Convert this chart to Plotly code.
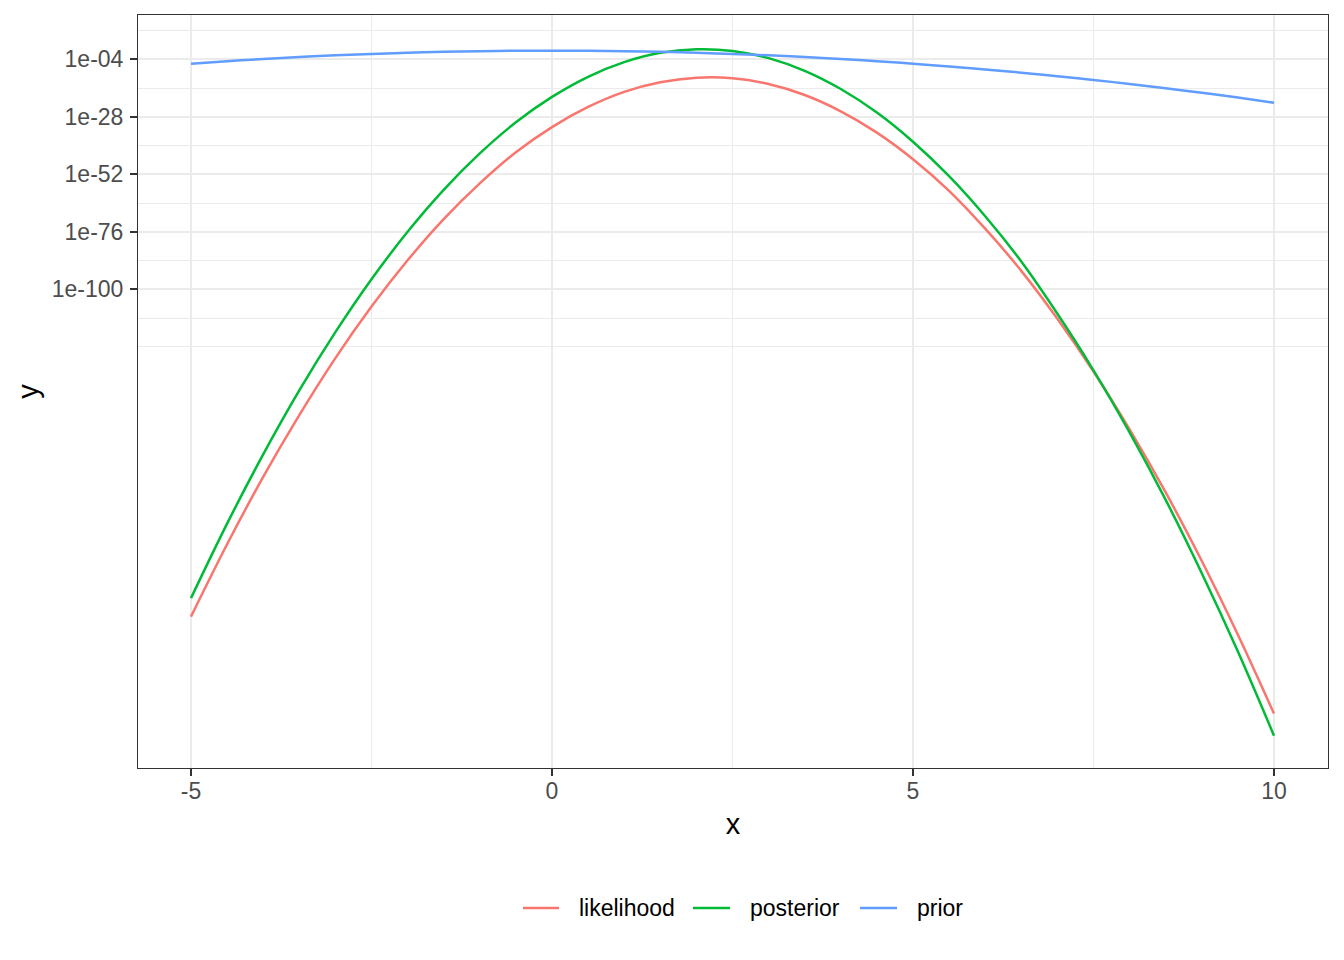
import numpy as np
import plotly.graph_objects as go

# x grid
x_vals = [-5, -4.5, -4, -3.5, -3, -2.5, -2, -1.5, -1, -0.5, 0, 0.5, 1, 1.5, 2, 2.5,
          3, 3.5, 4, 4.5, 5, 5.5, 6, 6.5, 7, 7.5, 8, 8.5, 9, 9.5, 10]

# values (exponents of 10)
likelihood_log10 = [-236.6, -206.4, -178.3, -152.5, -128.7, -107.2, -87.9, -70.7, -55.8, -42.8,
                    -32.3, -23.9, -17.6, -13.6, -11.7, -11.9, -14.3, -18.9, -25.7, -34.6,
                    -45.7, -58.9, -74.7, -92.3, -112.3, -134.3, -158.5, -184.8, -213.4, -244.2, -277.1]
posterior_log10 = [-228.9, -197.8, -168.9, -142.2, -117.9, -95.8, -76.0, -58.5, -43.3, -30.3,
                   -19.7, -11.3, -5.2, -1.3, 0.2, -0.5, -3.5, -8.8, -16.4, -26.2,
                   -38.4, -52.8, -69.5, -88.4, -110.2, -133.8, -159.7, -187.9, -218.5, -251.2, -286.3]
prior_log10 = [-5.83, -4.80, -3.87, -3.06, -2.35, -1.76, -1.27, -0.89, -0.62, -0.45,
               -0.40, -0.45, -0.62, -0.89, -1.27, -1.76, -2.35, -3.06, -3.87, -4.80,
               -5.83, -6.97, -8.22, -9.57, -11.04, -12.61, -14.29, -16.08, -17.98, -19.99, -22.11]

series_names = ["likelihood", "posterior", "prior"]
series_colors = ["#F8766D", "#00BA38", "#619CFF"]
series_log10 = [likelihood_log10, posterior_log10, prior_log10]

y_tick_vals = [1e-04, 1e-28, 1e-52, 1e-76, 1e-100]
y_tick_text = ["1e-04", "1e-28", "1e-52", "1e-76", "1e-100"]
y_minor_vals = [1e8, 1e-16, 1e-40, 1e-64, 1e-88, 1e-112, 1e-124]
x_tick_vals = [-5, 0, 5, 10]
x_minor_vals = [-2.5, 2.5, 7.5]

FONT = "Liberation Sans, Arial, Helvetica, sans-serif"

fig = go.Figure()
for name, color, vals in zip(series_names, series_colors, series_log10):
    fig.add_trace(go.Scatter(
        x=x_vals, y=[10.0 ** v for v in vals], mode="lines", name=name,
        line=dict(color=color, width=2.5, shape="spline"), showlegend=False))

# page offset (browser body margin) compensation
OFF = 8
FIG_W, FIG_H = 1344 - OFF, 960 - OFF
# plot area geometry in figure px
L, R, T, B = 138 - OFF, 1328 - OFF, 15 - OFF, 768 - OFF
W, H = R - L, B - T

def px_x(p):
    return (p - OFF - L) / W

def px_y(p):
    return (B - (p - OFF)) / H

# manual legend (ggplot-style bottom legend), positions in page px
leg_y = 908
leg_items = [(523, 559, 577), (693, 730, 748), (860, 897, 915)]
shapes = []
annotations = []
for (x0, x1, tx), name, color in zip(leg_items, series_names, series_colors):
    shapes.append(dict(type="line", xref="paper", yref="paper",
                       x0=px_x(x0), x1=px_x(x1), y0=px_y(leg_y), y1=px_y(leg_y),
                       line=dict(color=color, width=2.5)))
    annotations.append(dict(text=name, xref="paper", yref="paper",
                            x=px_x(tx), y=px_y(leg_y), xanchor="left", yanchor="middle",
                            showarrow=False, font=dict(family=FONT, size=23, color="black")))

fig.update_layout(
    width=FIG_W, height=FIG_H,
    margin=dict(l=L, r=FIG_W - R, t=T, b=FIG_H - B),
    paper_bgcolor="white", plot_bgcolor="white",
    font=dict(family=FONT),
    shapes=shapes, annotations=annotations,
    showlegend=False,
)

fig.update_xaxes(
    range=[-5.734, 10.748],
    tickmode="array", tickvals=x_tick_vals, ticktext=[str(v) for v in x_tick_vals],
    ticks="outside", ticklen=7, tickwidth=1.5, tickcolor="#333333",
    tickfont=dict(family=FONT, size=23, color="#4D4D4D"),
    ticklabelstandoff=-5,
    showgrid=True, gridcolor="#EBEBEB", gridwidth=2,
    minor=dict(tickmode="array", tickvals=x_minor_vals, showgrid=True,
               gridcolor="#EBEBEB", gridwidth=1, ticklen=0),
    showline=True, linecolor="#333333", linewidth=1, mirror=True,
    zeroline=False,
    title=dict(text="x", font=dict(family=FONT, size=29, color="black"), standoff=11),
)

fig.update_yaxes(
    type="log", range=[-299.8, 14.49],
    tickmode="array", tickvals=y_tick_vals, ticktext=y_tick_text,
    ticks="outside", ticklen=7, tickwidth=1.5, tickcolor="#333333",
    tickfont=dict(family=FONT, size=23, color="#4D4D4D"),
    ticklabelstandoff=2,
    showgrid=True, gridcolor="#EBEBEB", gridwidth=2,
    minor=dict(tickmode="array", tickvals=y_minor_vals, showgrid=True,
               gridcolor="#EBEBEB", gridwidth=1, ticklen=0),
    showline=True, linecolor="#333333", linewidth=1, mirror=True,
    zeroline=False,
    title=dict(text="y", font=dict(family=FONT, size=29, color="black"), standoff=4),
)

fig.write_html("out.html")
